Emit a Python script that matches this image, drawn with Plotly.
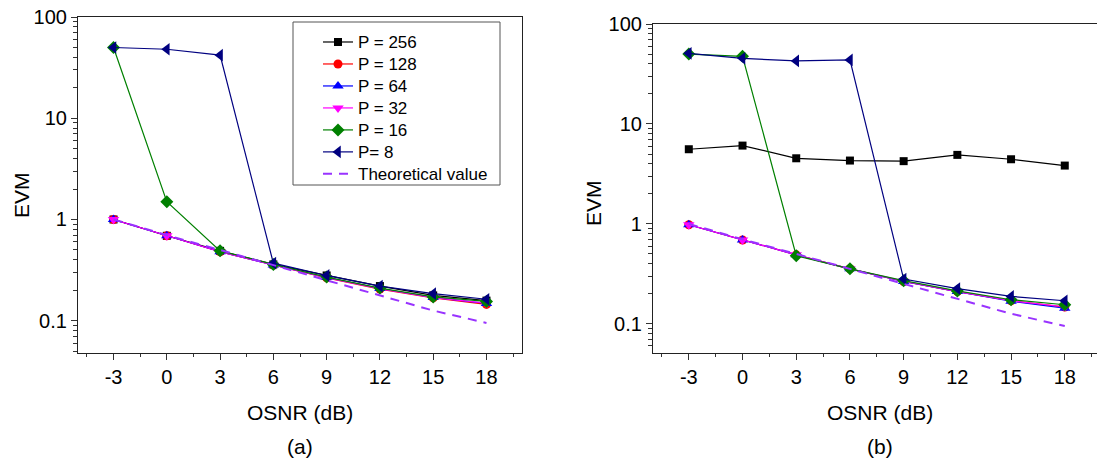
import math
import plotly.graph_objects as go

W, H = 1097, 461

# ---------------- data ----------------
osnr = [-3, 0, 3, 6, 9, 12, 15, 18]
x_ticktext = ["-3", "0", "3", "6", "9", "12", "15", "18"]
y_tickvals = [0.1, 1, 10, 100]
y_ticktext = ["0.1", "1", "10", "100"]

series_names = ["P = 256", "P = 128", "P = 64", "P = 32", "P = 16", "P= 8", "Theoretical value"]

# panel (a)
a_p256 = [1.0, 0.69, 0.49, 0.36, 0.28, 0.22, 0.178, 0.158]
a_p128 = [1.0, 0.69, 0.48, 0.355, 0.265, 0.205, 0.168, 0.145]
a_p64 = [1.0, 0.69, 0.48, 0.355, 0.268, 0.208, 0.170, 0.148]
a_p32 = [1.0, 0.69, 0.48, 0.355, 0.267, 0.207, 0.169, 0.149]
a_p16 = [50, 1.5, 0.49, 0.36, 0.27, 0.21, 0.172, 0.155]
a_p8 = [50, 48, 42, 0.37, 0.28, 0.22, 0.185, 0.163]
a_theory = [1.0, 0.70, 0.50, 0.355, 0.25, 0.178, 0.126, 0.095]

# panel (b)
b_p256 = [5.58, 6.07, 4.53, 4.30, 4.24, 4.90, 4.43, 3.83]
b_p128 = [0.98, 0.69, 0.49, 0.355, 0.265, 0.21, 0.170, 0.147]
b_p64 = [0.98, 0.69, 0.49, 0.355, 0.265, 0.21, 0.168, 0.143]
b_p32 = [0.98, 0.69, 0.49, 0.355, 0.267, 0.21, 0.170, 0.148]
b_p16 = [50, 47.5, 0.48, 0.355, 0.27, 0.213, 0.174, 0.155]
b_p8 = [50.9, 45.3, 42.7, 43.7, 0.28, 0.225, 0.188, 0.170]
b_theory = [1.0, 0.70, 0.50, 0.355, 0.25, 0.178, 0.126, 0.095]

panel_a = [a_p256, a_p128, a_p64, a_p32, a_p16, a_p8, a_theory]
panel_b = [b_p256, b_p128, b_p64, b_p32, b_p16, b_p8, b_theory]

# ---------------- styles ----------------
colors = ["#000000", "#ff0000", "#0000ff", "#ff00ff", "#008000", "#000080", "#9933ff"]
symbols = ["square", "circle", "triangle-up", "triangle-down", "diamond", "triangle-left", None]
msizes = [8, 9, 10, 10, 10, 11, 0]

FONT = "Liberation Sans, Arial, sans-serif"
LEG_TEXT_SIZE = 17


def px_x(p):
    return p / W


def px_y(p):
    return 1 - p / H


fig = go.Figure()

for panel, (xa, ya, show) in zip([panel_a, panel_b], [("x", "y", True), ("x2", "y2", False)]):
    for i, vals in enumerate(panel):
        label = '<span style="font-size:%dpx">%s</span>' % (LEG_TEXT_SIZE, series_names[i])
        if symbols[i] is None:
            fig.add_trace(go.Scatter(
                x=osnr, y=vals, name=label, mode="lines",
                line=dict(color=colors[i], width=2, dash="9px,7px"),
                xaxis=xa, yaxis=ya, showlegend=show))
        else:
            fig.add_trace(go.Scatter(
                x=osnr, y=vals, name=label, mode="lines+markers",
                line=dict(color=colors[i], width=1.2),
                marker=dict(symbol=symbols[i], size=msizes[i], color=colors[i],
                            line=dict(width=0)),
                xaxis=xa, yaxis=ya, showlegend=show))

x_minor = [-4.5 + 3 * k for k in range(9)]
y_minor = [m * 10 ** e for e in range(-2, 2) for m in range(2, 10) if m * 10 ** e > 0.048]

axis_common = dict(
    showgrid=False, zeroline=False, showline=True, linecolor="#222222", linewidth=1.2,
    ticks="outside", tickcolor="#333333", tickwidth=1,
    tickfont=dict(family=FONT, size=20, color="#000000"),
)

xcommon = dict(axis_common, tickmode="array", tickvals=osnr, ticktext=x_ticktext, ticklen=6,
               minor=dict(tickvals=x_minor, ticks="outside", ticklen=3, tickcolor="#333333", tickwidth=1))
ycommon = dict(axis_common, type="log", tickmode="array", tickvals=y_tickvals, ticktext=y_ticktext,
               ticklen=6,
               minor=dict(tickvals=y_minor, ticks="outside", ticklen=4, tickcolor="#333333", tickwidth=1))

fig.update_layout(
    width=W, height=H,
    margin=dict(l=0, r=0, t=0, b=0, autoexpand=False),
    paper_bgcolor="white", plot_bgcolor="white",
    font=dict(family=FONT, color="#000000"),
    xaxis=dict(xcommon, domain=[px_x(78), px_x(522)], range=[-5, 20], anchor="y", mirror=True),
    yaxis=dict(ycommon, domain=[px_y(353), px_y(17)], range=[math.log10(0.048), 2], anchor="x", mirror=True),
    xaxis2=dict(xcommon, domain=[px_x(653), 1.0], range=[-5, 19.8], anchor="y2", mirror=True),
    yaxis2=dict(ycommon, domain=[px_y(353), px_y(24)], range=[math.log10(0.051), 2], anchor="x2", mirror=False),
    legend=dict(x=px_x(318), y=px_y(26), xanchor="left", yanchor="top",
                bgcolor="rgba(0,0,0,0)", borderwidth=0,
                font=dict(family=FONT, size=14.6, color="#000000"),
                tracegroupgap=0),
    showlegend=True,
)

# legend frame
fig.add_shape(type="rect", xref="paper", yref="paper",
              x0=px_x(293), x1=px_x(500), y0=px_y(185), y1=px_y(22),
              line=dict(color="#555555", width=1), fillcolor="rgba(0,0,0,0)", layer="below")

ann_font = dict(family=FONT, size=21, color="#000000")
fig.add_annotation(text="OSNR (dB)", x=px_x(300), y=px_y(412), xref="paper", yref="paper",
                   showarrow=False, font=ann_font, xanchor="center", yanchor="middle")
fig.add_annotation(text="OSNR (dB)", x=px_x(880), y=px_y(412), xref="paper", yref="paper",
                   showarrow=False, font=ann_font, xanchor="center", yanchor="middle")
fig.add_annotation(text="(a)", x=px_x(300), y=px_y(446), xref="paper", yref="paper",
                   showarrow=False, font=ann_font, xanchor="center", yanchor="middle")
fig.add_annotation(text="(b)", x=px_x(880), y=px_y(446), xref="paper", yref="paper",
                   showarrow=False, font=ann_font, xanchor="center", yanchor="middle")
fig.add_annotation(text="EVM", x=px_x(21), y=px_y(195), xref="paper", yref="paper", textangle=-90,
                   showarrow=False, font=ann_font, xanchor="center", yanchor="middle")
fig.add_annotation(text="EVM", x=px_x(594), y=px_y(203), xref="paper", yref="paper", textangle=-90,
                   showarrow=False, font=ann_font, xanchor="center", yanchor="middle")

fig.write_html("out.html", config={"displayModeBar": False},
               post_script="document.body.style.margin='0';document.body.style.overflow='hidden';")
